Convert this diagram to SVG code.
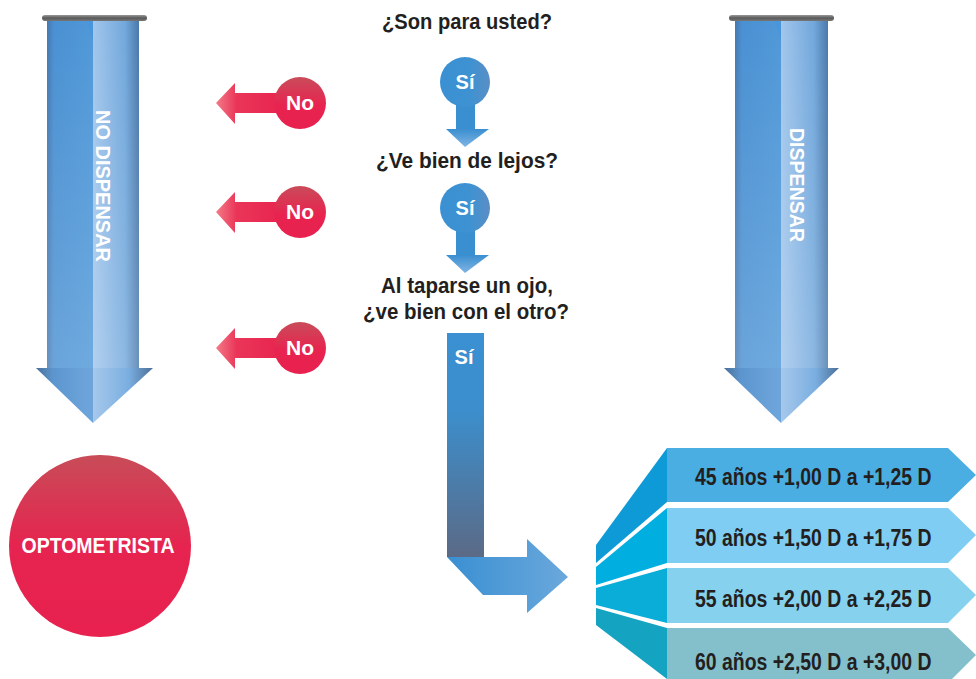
<svg xmlns="http://www.w3.org/2000/svg" width="976" height="679" viewBox="0 0 976 679">
<defs>
<style>
.q{font-family:"Liberation Sans",Arial,sans-serif;font-weight:bold;fill:#231f20;text-anchor:middle;font-size:22px}
.w{font-family:"Liberation Sans",Arial,sans-serif;font-weight:bold;fill:#ffffff;text-anchor:middle}
.b{font-family:"Liberation Sans",Arial,sans-serif;font-weight:bold;fill:#231f20;font-size:24px}
</style>
<linearGradient id="capG" x1="0" y1="0" x2="0" y2="1"><stop offset="0" stop-color="#9a9a9a"/><stop offset="0.5" stop-color="#5a5a5a"/><stop offset="1" stop-color="#777"/></linearGradient>
<linearGradient id="shL" x1="0" y1="0" x2="1" y2="0"><stop offset="0" stop-color="#4478b0"/><stop offset="0.15" stop-color="#4a90d2"/><stop offset="1" stop-color="#4f98d8"/></linearGradient>
<linearGradient id="shR" x1="0" y1="0" x2="1" y2="0"><stop offset="0" stop-color="#a2c6ec"/><stop offset="0.7" stop-color="#72a8dc"/><stop offset="1" stop-color="#4a78aa"/></linearGradient>
<linearGradient id="fade" x1="0" y1="0" x2="0" y2="1"><stop offset="0" stop-color="#fff" stop-opacity="0"/><stop offset="1" stop-color="#fff" stop-opacity="0.18"/></linearGradient>
<linearGradient id="hdL" x1="0" y1="0" x2="1" y2="0"><stop offset="0" stop-color="#4a6f98"/><stop offset="0.3" stop-color="#5d96cf"/><stop offset="1" stop-color="#6ea6dc"/></linearGradient>
<linearGradient id="hdR" x1="0" y1="0" x2="1" y2="0"><stop offset="0" stop-color="#a6c8ec"/><stop offset="0.6" stop-color="#7aaee0"/><stop offset="1" stop-color="#4a6f98"/></linearGradient>
<linearGradient id="redArr" x1="0" y1="0" x2="1" y2="0"><stop offset="0" stop-color="#f27a86"/><stop offset="0.3" stop-color="#ea3558"/><stop offset="1" stop-color="#e8234f"/></linearGradient>
<linearGradient id="redC" x1="0" y1="0" x2="0" y2="1"><stop offset="0" stop-color="#c94c5a"/><stop offset="0.55" stop-color="#e8234f"/><stop offset="1" stop-color="#e8214f"/></linearGradient>
<linearGradient id="bigRed" x1="0" y1="0" x2="0" y2="1"><stop offset="0" stop-color="#c84c58"/><stop offset="0.5" stop-color="#e6244f"/><stop offset="1" stop-color="#e8214f"/></linearGradient>
<linearGradient id="siC" x1="0" y1="0" x2="1" y2="0"><stop offset="0" stop-color="#3a90d2"/><stop offset="0.6" stop-color="#3e92d2"/><stop offset="1" stop-color="#5a8ec4"/></linearGradient>
<linearGradient id="siH" x1="0" y1="0" x2="0" y2="1"><stop offset="0" stop-color="#3a8fd0"/><stop offset="1" stop-color="#80b4e4"/></linearGradient>
<linearGradient id="bendV" x1="0" y1="0" x2="0" y2="1"><stop offset="0" stop-color="#3a90d2"/><stop offset="0.35" stop-color="#3c8ecc"/><stop offset="1" stop-color="#5b6a86"/></linearGradient>
<linearGradient id="bendH" x1="0" y1="0" x2="1" y2="0"><stop offset="0" stop-color="#3a8fd2"/><stop offset="1" stop-color="#6aa8dc"/></linearGradient>
</defs>

<g id="no-dispensar">
<rect x="47" y="20" width="46" height="348" fill="url(#shL)"/>
<rect x="93" y="20" width="46" height="348" fill="url(#shR)"/>
<rect x="47" y="20" width="92" height="348" fill="url(#fade)"/>
<polygon points="86,21 93,21 93,40" fill="#4a96dc"/>
<polygon points="36,368 93,368 93,423" fill="url(#hdL)"/>
<polygon points="93,368 153,368 93,423" fill="url(#hdR)"/>
<rect x="42" y="15" width="105" height="6" rx="3" fill="url(#capG)"/>
<text class="w" font-size="20" transform="translate(96,186) rotate(90)" x="0" y="0" textLength="152" lengthAdjust="spacingAndGlyphs">NO DISPENSAR</text>
</g>

<g id="dispensar">
<rect x="735" y="20" width="46" height="348" fill="url(#shL)"/>
<rect x="781" y="20" width="47" height="348" fill="url(#shR)"/>
<rect x="735" y="20" width="93" height="348" fill="url(#fade)"/>
<polygon points="774,21 781,21 781,40" fill="#4a96dc"/>
<polygon points="724,368 781,368 781,423" fill="url(#hdL)"/>
<polygon points="781,368 839,368 781,423" fill="url(#hdR)"/>
<rect x="729" y="15" width="105" height="6" rx="3" fill="url(#capG)"/>
<text class="w" font-size="20" transform="translate(790,185) rotate(90)" x="0" y="0" textLength="114" lengthAdjust="spacingAndGlyphs">DISPENSAR</text>
</g>

<g id="q1"><text class="q" x="467" y="29" textLength="170" lengthAdjust="spacingAndGlyphs">¿Son para usted?</text></g>
<g id="q2"><text class="q" x="467" y="168" textLength="182" lengthAdjust="spacingAndGlyphs">¿Ve bien de lejos?</text></g>
<g id="q3">
<text class="q" x="467" y="293" textLength="172" lengthAdjust="spacingAndGlyphs">Al taparse un ojo,</text>
<text class="q" x="466" y="319" textLength="206" lengthAdjust="spacingAndGlyphs">¿ve bien con el otro?</text>
</g>

<g id="si1">
<rect x="456" y="100" width="19" height="30" fill="#3a8fd0"/>
<polygon points="446,129 489,129 465,147" fill="url(#siH)"/>
<circle cx="465" cy="82" r="25" fill="url(#siC)"/>
<text class="w" font-size="20" x="465" y="89">Sí</text>
</g>
<g id="si2">
<rect x="456" y="226" width="19" height="30" fill="#3a8fd0"/>
<polygon points="446,255 489,255 465,273" fill="url(#siH)"/>
<circle cx="465" cy="208" r="25" fill="url(#siC)"/>
<text class="w" font-size="20" x="465" y="215">Sí</text>
</g>

<g id="no1">
<polygon points="216,103 235,83 235,93 285,93 285,113 235,113 235,124" fill="url(#redArr)"/>
<circle cx="300" cy="103" r="26" fill="url(#redC)"/>
<text class="w" font-size="21" x="300" y="110">No</text>
</g>
<g id="no2">
<polygon points="216,212 235,192 235,202 285,202 285,222 235,222 235,233" fill="url(#redArr)"/>
<circle cx="300" cy="212" r="26" fill="url(#redC)"/>
<text class="w" font-size="21" x="300" y="219">No</text>
</g>
<g id="no3">
<polygon points="216,348 235,328 235,338 285,338 285,358 235,358 235,369" fill="url(#redArr)"/>
<circle cx="300" cy="348" r="26" fill="url(#redC)"/>
<text class="w" font-size="21" x="300" y="355">No</text>
</g>

<g id="optometrista">
<circle cx="100" cy="546" r="91" fill="url(#bigRed)"/>
<text class="w" font-size="22" x="98" y="553" textLength="153" lengthAdjust="spacingAndGlyphs">OPTOMETRISTA</text>
</g>

<g id="connectors">
<rect x="447" y="333" width="37" height="224" fill="url(#bendV)"/>
<polygon points="447,557 527,557 527,539 568,577 527,613 527,595 483,595" fill="url(#bendH)"/>
<text class="w" font-size="20" x="464" y="364">Sí</text>
</g>

<g id="ages">
<polygon points="667,448 667,502 596,563 596,545" fill="#0e9ad6"/>
<polygon points="667,508 667,563 596,585 596,567" fill="#00aee0"/>
<polygon points="667,568 667,623 596,605 596,588" fill="#0aacd8"/>
<polygon points="667,628 667,679 596,625 596,608" fill="#15a3c2"/>
<polygon points="667,448 948,448 976,475 948,502 667,502" fill="#4aaee2"/>
<polygon points="667,508 948,508 976,535 948,563 667,563" fill="#7fcdf2"/>
<polygon points="667,568 948,568 976,595 948,623 667,623" fill="#86d1ee"/>
<polygon points="667,628 948,628 976,655 948,683 667,683" fill="#84bfcc"/>
<text class="b" transform="translate(695,485) scale(0.81,1)" x="0" y="0">45 años +1,00 D a +1,25 D</text>
<text class="b" transform="translate(695,546) scale(0.81,1)" x="0" y="0">50 años +1,50 D a +1,75 D</text>
<text class="b" transform="translate(695,607) scale(0.81,1)" x="0" y="0">55 años +2,00 D a +2,25 D</text>
<text class="b" transform="translate(695,670) scale(0.81,1)" x="0" y="0">60 años +2,50 D a +3,00 D</text>
</g>
</svg>
